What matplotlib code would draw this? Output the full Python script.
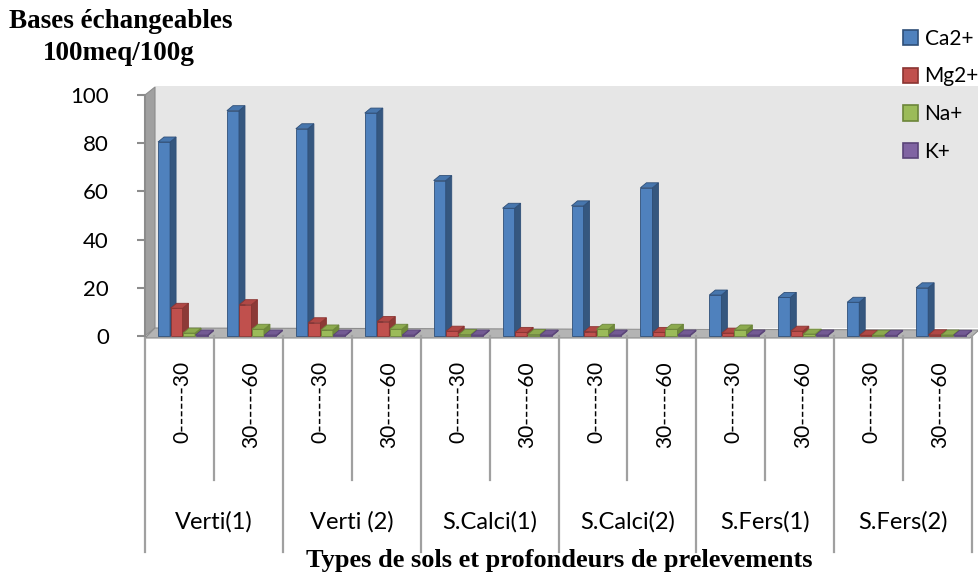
import matplotlib.pyplot as plt
from matplotlib.patches import Polygon, Patch

# exchangeable bases (meq/100g) per soil type and sampling depth
groups = ["Verti(1)", "Verti (2)", "S.Calci(1)", "S.Calci(2)", "S.Fers(1)", "S.Fers(2)"]
depths = ["0------30", "30-----60"]
ions = ["Ca2+", "Mg2+", "Na+", "K+"]
ca = [80.5, 93.5, 86, 92.5, 64.5, 53, 54, 61.5, 17, 16, 14, 20]
mg = [11.5, 13, 5.5, 6, 2, 1.5, 1.8, 1.5, 1.2, 2, 0.3, 0.5]
na = [1.2, 2.8, 2.5, 2.8, 0.6, 0.6, 2.8, 2.8, 2.5, 0.8, 0.3, 0.4]
k = [0.4, 0.4, 0.4, 0.4, 0.4, 0.4, 0.4, 0.4, 0.4, 0.4, 0.3, 0.3]

front = ["#4F81BD", "#C0504D", "#9BBB59", "#8064A2"]
side = ["#35577F", "#8C3A37", "#6F8A3A", "#5C4777"]
top = ["#4776AD", "#B04845", "#8CAA4E", "#735A93"]
edge = ["#2F4F78", "#8A3431", "#6C853A", "#5A4478"]

W, H = 979, 577
fig = plt.figure(figsize=(W / 100, H / 100), dpi=100)
# axes spans the 12 category slots and the 0..100 value range
x0, x1, y0, y1 = 145, 972, 336, 95
ax = fig.add_axes([x0 / W, 1 - y0 / H, (x1 - x0) / W, (y0 - y1) / H])
ax.set_xlim(0, 12)
ax.set_ylim(0, 100)
pxx = (x1 - x0) / 12.0     # pixels per slot
pxy = (y0 - y1) / 100.0    # pixels per unit

def px(dx=0, dy=0):
    return dx / pxx, dy / pxy

ddx, ddy = px(6, 5)       # bar depth
wdx, wdy = px(10, 8)      # wall depth

# back wall and left side wall
xr_wall = 12 + px(7)[0]
ytop = 100 + wdy + px(0, 1)[1]
ax.add_patch(Polygon([(wdx, wdy), (xr_wall, wdy), (xr_wall, ytop), (wdx, ytop)],
                     closed=True, fc="#E6E6E6", ec="none", clip_on=False, zorder=0))
ax.add_patch(Polygon([(0, 0), (wdx, wdy), (wdx, 100 + wdy), (0, 100)],
                     closed=True, fc="#A0A0A0", ec="#8C8C8C", lw=0.8, clip_on=False, zorder=1))
# floor slab
fl = px(0, 2)[1]
ax.add_patch(Polygon([(0, -fl), (12 - px(2)[0], -fl), (xr_wall, wdy - fl), (wdx, wdy)],
                     closed=True, fc="#B4B4B4", ec="#8C8C8C", lw=0.8, clip_on=False, zorder=1))

bw = 0.175
gap = 12.5 / pxx
start = 13 / pxx
series = [ca, mg, na, k]
for s, vals in enumerate(series):
    xs = [i + start + s * gap for i in range(12)]
    ax.bar(xs, vals, width=bw, align="edge", color=front[s], edgecolor=edge[s],
           linewidth=0.6, zorder=3 + s * 0.01, clip_on=False)
    for xl, v in zip(xs, vals):
        xr = xl + bw
        ax.add_patch(Polygon([(xr, 0), (xr + ddx, ddy), (xr + ddx, v + ddy), (xr, v)],
                             closed=True, fc=side[s], ec=edge[s], lw=0.6,
                             zorder=3 + s * 0.01, clip_on=False))
        ax.add_patch(Polygon([(xl, v), (xr, v), (xr + ddx, v + ddy), (xl + ddx, v + ddy)],
                             closed=True, fc=top[s], ec=edge[s], lw=0.6,
                             zorder=3 + s * 0.01, clip_on=False))

# y axis
for sp in ["top", "right", "bottom"]:
    ax.spines[sp].set_visible(False)
ax.spines["left"].set_color("#8C8C8C")
ax.spines["left"].set_linewidth(1.5)
ax.set_yticks(range(0, 101, 20))
ax.tick_params(axis="y", length=6, width=1.5, color="#8C8C8C", labelsize=16, pad=20)
for lb in ax.get_yticklabels():
    lb.set_fontfamily("Lato")
ax.set_xticks([])
ax.patch.set_visible(False)

# category table below the floor
for i in range(13):
    ybot = (y0 - 552) / pxy if i % 2 == 0 else (y0 - 480) / pxy
    ax.plot([i, i], [0, ybot], color="#A0A0A0", lw=1.6, clip_on=False, zorder=2)
for i in range(12):
    ax.text(i + 0.5 + px(3)[0], (y0 - 361) / pxy, depths[i % 2], rotation=90,
            ha="center", va="top", fontsize=15, family="Lato")
for g, name in enumerate(groups):
    ax.text(2 * g + 1, (y0 - 522) / pxy, name, ha="center", va="center",
            fontsize=17, family="Lato")

fig.text(559 / W, 1 - 561 / H, "Types de sols et profondeurs de prelevements",
         ha="center", va="center", fontsize=19, fontweight="bold", family="Liberation Serif")
fig.text(121 / W, 1 - 21 / H, "Bases échangeables", ha="center", va="center",
         fontsize=19.5, fontweight="bold", family="Liberation Serif")
fig.text(119 / W, 1 - 53 / H, "100meq/100g", ha="center", va="center",
         fontsize=19.5, fontweight="bold", family="Liberation Serif")

handles = [Patch(fc=front[s], ec=edge[s], lw=1.2) for s in range(4)]
leg = fig.legend(handles, ions, loc="upper left", bbox_to_anchor=(884 / W, 1 - 10 / H),
                 frameon=False, handlelength=0.75, handleheight=0.75, handletextpad=0.3,
                 labelspacing=0.85, prop={"family": "Lato", "size": 15})

fig.savefig("out.png", dpi=100)
